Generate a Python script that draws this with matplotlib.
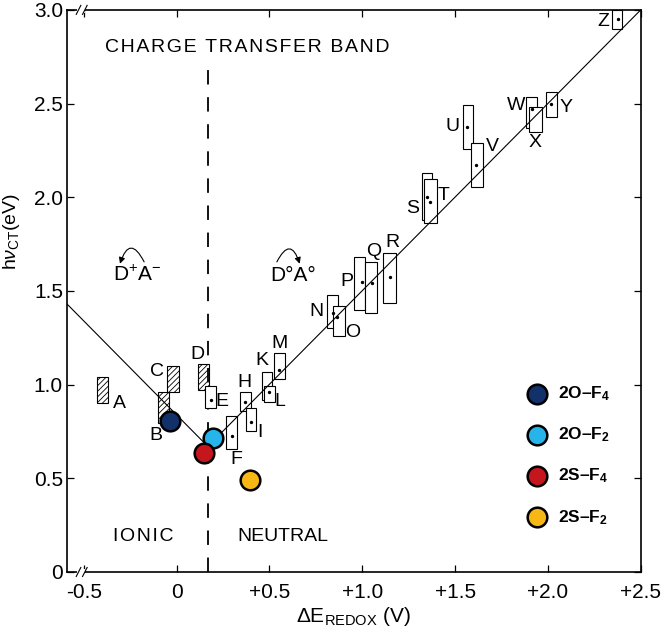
import numpy as np
import matplotlib
matplotlib.use("Agg")
from matplotlib import pyplot as plt
from matplotlib.patches import Rectangle

plt.rcParams['font.family'] = ['Liberation Sans', 'DejaVu Sans']
plt.rcParams['mathtext.fontset'] = 'custom'
plt.rcParams['mathtext.rm'] = 'Liberation Sans'
plt.rcParams['mathtext.it'] = 'Liberation Sans:italic'
plt.rcParams['mathtext.bf'] = 'Liberation Sans:bold'
plt.rcParams['hatch.linewidth'] = 0.6

# literature CT complexes: box ranges (dE redox, hv CT)
names = ['A', 'B', 'C', 'D', 'E', 'F', 'H', 'I', 'K', 'L', 'M', 'N',
         'O', 'P', 'Q', 'R', 'S', 'T', 'U', 'V', 'W', 'X', 'Y', 'Z']
x_lo = [-0.43, -0.10, -0.052, 0.114, 0.152, 0.265, 0.34, 0.372, 0.458, 0.47, 0.523, 0.808,
        0.84, 0.958, 1.017, 1.114, 1.32, 1.335, 1.54, 1.587, 1.883, 1.90, 1.99, 2.345]
x_hi = [-0.37, -0.042, 0.012, 0.173, 0.211, 0.324, 0.40, 0.426, 0.512, 0.53, 0.582, 0.867,
        0.905, 1.017, 1.077, 1.179, 1.378, 1.40, 1.598, 1.652, 1.942, 1.97, 2.05, 2.40]
y_lo = [0.90, 0.795, 0.96, 0.97, 0.876, 0.657, 0.86, 0.753, 0.918, 0.908, 1.03, 1.30,
        1.26, 1.40, 1.38, 1.436, 1.88, 1.86, 2.26, 2.055, 2.37, 2.35, 2.43, 2.90]
y_hi = [1.04, 0.96, 1.10, 1.11, 0.99, 0.833, 0.96, 0.876, 1.068, 0.993, 1.17, 1.48,
        1.42, 1.68, 1.655, 1.70, 2.13, 2.10, 2.49, 2.29, 2.536, 2.48, 2.56, 3.0]
hatched = [True, True, True, True] + [False] * 20
dot_x = [np.nan, np.nan, np.nan, np.nan, 0.184, 0.297, 0.367, 0.40, np.nan, 0.50, 0.55, 0.84,
         0.862, 0.996, 1.05, 1.147, 1.35, 1.367, 1.566, 1.614, 1.915, np.nan, 2.017, 2.378]
dot_y = [np.nan, np.nan, np.nan, np.nan, 0.92, 0.726, 0.907, 0.80, np.nan, 0.96, 1.08, 1.38,
         1.36, 1.55, 1.54, 1.575, 2.0, 1.975, 2.376, 2.17, 2.47, np.nan, 2.50, 2.95]
lab_x = [-0.31, -0.11, -0.106, 0.114, 0.243, 0.324, 0.367, 0.447, 0.458, 0.555, 0.555, 0.754,
         0.948, 0.915, 1.06, 1.163, 1.27, 1.44, 1.485, 1.70, 1.83, 1.93, 2.10, 2.30]
lab_y = [0.90, 0.73, 1.07, 1.16, 0.91, 0.60, 1.01, 0.742, 1.13, 0.91, 1.22, 1.39,
         1.276, 1.55, 1.71, 1.756, 1.94, 2.01, 2.376, 2.27, 2.49, 2.29, 2.48, 2.94]

# V-shaped correlation line
line_x = [-0.59, 0.168, 2.5]
line_y = [1.43, 0.67, 3.0]
ionic_boundary = 0.168

# new compounds
pts_name = ['2O–F$_\\mathbf{4}$', '2O–F$_\\mathbf{2}$', '2S–F$_\\mathbf{4}$', '2S–F$_\\mathbf{2}$']
pts_x = [-0.036, 0.195, 0.147, 0.394]
pts_y = [0.806, 0.715, 0.635, 0.49]
pts_color = ['#12306a', '#27b4ea', '#c4161c', '#f7b715']

xticks = [-0.5, 0, 0.5, 1.0, 1.5, 2.0, 2.5]
xticklabels = ['-0.5', '0', '+0.5', '+1.0', '+1.5', '+2.0', '+2.5']
yticks = [0, 0.5, 1.0, 1.5, 2.0, 2.5, 3.0]
yticklabels = ['0', '0.5', '1.0', '1.5', '2.0', '2.5', '3.0']

fig = plt.figure(figsize=(6.64, 6.33), dpi=100)
ax = fig.add_axes([0.101, 0.0964, 0.864, 0.888])

ax.plot([ionic_boundary, ionic_boundary], [0, 2.74], color='k', lw=1.3,
        dashes=(8, 7), zorder=2)

for i in range(len(names)):
    r = Rectangle((x_lo[i], y_lo[i]), x_hi[i] - x_lo[i], y_hi[i] - y_lo[i],
                  facecolor='white' if not hatched[i] else 'none', edgecolor='k', lw=0.8,
                  hatch='//////' if hatched[i] else None, zorder=3)
    ax.add_patch(r)
    ax.text(lab_x[i], lab_y[i], names[i], fontsize=14, ha='center', va='center', zorder=4)
ax.scatter(dot_x, dot_y, s=2, color='k', zorder=4)
ax.plot(line_x, line_y, color='k', lw=0.8, zorder=3.5)

for i in range(len(pts_name)):
    ax.scatter(pts_x[i], pts_y[i], s=200, color=pts_color[i], edgecolor='k',
               linewidth=1.8, zorder=6, label=pts_name[i])

band = '\u200a'.join('CHARGE TRANSFER BAND')
ax.text(0.378, 2.80, band, fontsize=14, ha='center', va='center')
ax.text(-0.18, 0.187, '\u200a'.join('IONIC'), fontsize=14, ha='center', va='center')
ax.text(0.57, 0.187, 'NEUTRAL', fontsize=14, ha='center', va='center')
ax.text(-0.214, 1.585, 'D$^{+}$A$^{-}$', fontsize=15, ha='center', va='center')
ax.text(0.625, 1.585, 'D°A°', fontsize=15, ha='center', va='center')
ax.annotate('', xy=(-0.305, 1.645), xytext=(-0.175, 1.655),
            arrowprops=dict(arrowstyle='-|>', lw=0.8, color='k', mutation_scale=9,
                            shrinkA=0, shrinkB=0,
                            connectionstyle='arc3,rad=1.2'))
ax.annotate('', xy=(0.663, 1.645), xytext=(0.54, 1.655),
            arrowprops=dict(arrowstyle='-|>', lw=0.8, color='k', mutation_scale=9,
                            shrinkA=0, shrinkB=0,
                            connectionstyle='arc3,rad=-1.2'))

ax.set_xlim(-0.59, 2.5)
ax.set_ylim(0, 3.0)
ax.set_xticks(xticks)
ax.set_xticklabels(xticklabels)
ax.set_yticks(yticks)
ax.set_yticklabels(yticklabels)
ax.tick_params(direction='in', length=5, width=0.9, labelsize=15, top=True, right=True)
ax.tick_params(axis='x', pad=8)
ax.tick_params(axis='y', pad=3)
for s in ax.spines.values():
    s.set_linewidth(1.2)

ax.set_xlabel('ΔE$_{\\mathrm{REDOX}}$ (V)', fontsize=15, labelpad=2)
ax.set_ylabel('h$\\nu_{\\mathrm{CT}}$(eV)', fontsize=14)
ax.yaxis.set_label_coords(-0.078, 0.605)

# axis break marks
for yb in (0.0, 1.0):
    ax.add_patch(Rectangle((0.018, yb - 0.006), 0.014, 0.012, transform=ax.transAxes,
                           facecolor='white', edgecolor='none', clip_on=False, zorder=7))
    for dx in (0.016, 0.027):
        ax.plot([dx, dx + 0.008], [yb - 0.008, yb + 0.008], transform=ax.transAxes,
                color='k', lw=0.8, clip_on=False, zorder=8)

ax.legend(loc='lower right', bbox_to_anchor=(0.965, 0.062), frameon=False,
          labelspacing=1.3, handletextpad=0.2, borderaxespad=0.2,
          prop={'weight': 'bold', 'size': 12.5})

plt.savefig('out.png', dpi=100)
